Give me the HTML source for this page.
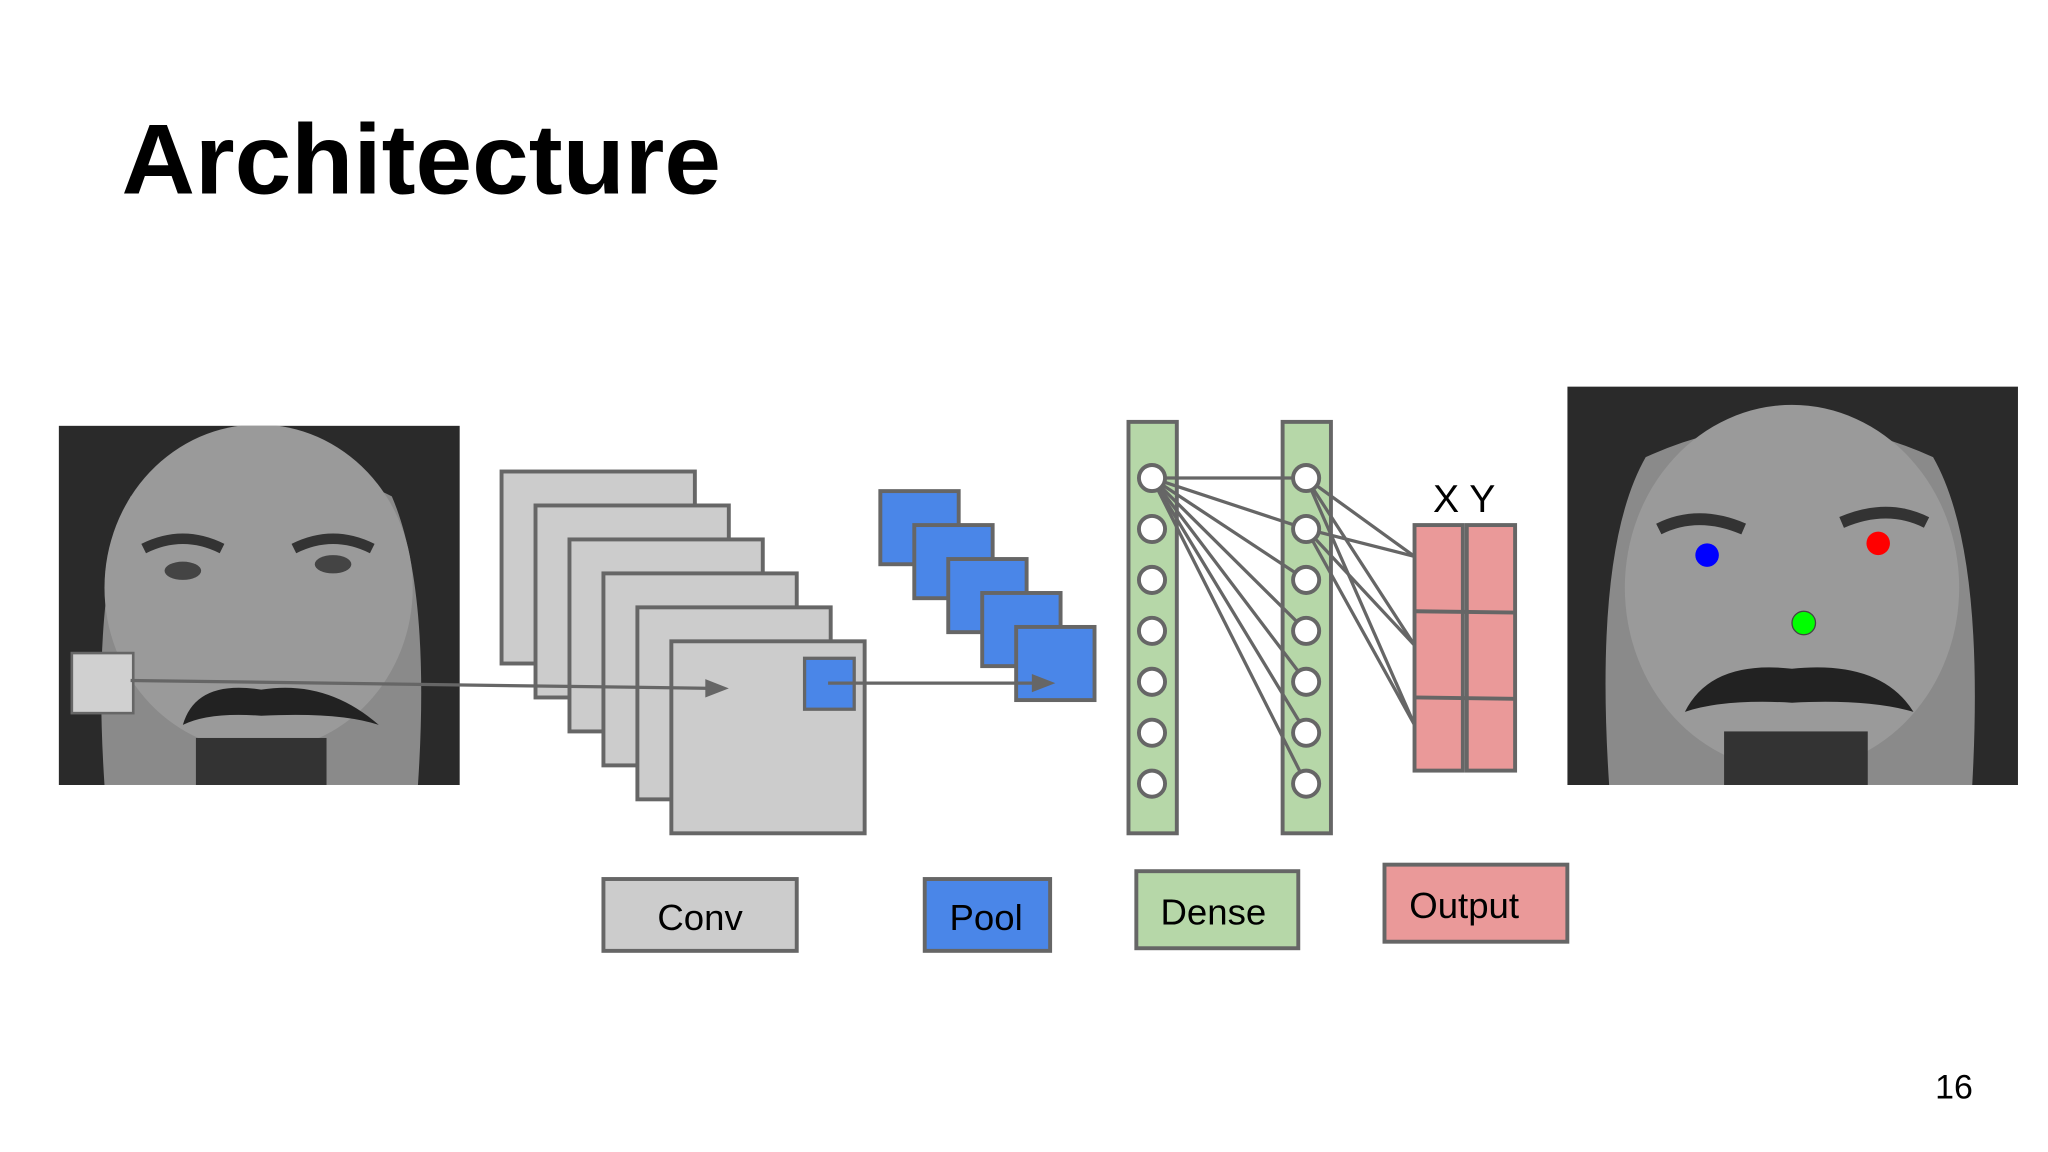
<!DOCTYPE html>
<html><head><style>
html,body{margin:0;padding:0;background:#fff;}
svg{display:block;}
</style></head><body>
<svg width="2048" height="1152" viewBox="0 0 1568 882" xmlns="http://www.w3.org/2000/svg" font-family="Liberation Sans, sans-serif">
<defs>
<clipPath id="cl"><rect x="45" y="326" width="307" height="275"/></clipPath>
<clipPath id="cr"><rect x="1200" y="296" width="345" height="305"/></clipPath>
</defs>
<rect width="1568" height="882" fill="#fff"/>
<text x="93" y="148" font-size="76" font-weight="bold" fill="#000" textLength="459" lengthAdjust="spacingAndGlyphs">Architecture</text>

<!-- left face -->
<g clip-path="url(#cl)">
<rect x="45" y="326" width="307" height="275" fill="#8a8a8a"/>
<path d="M45 326 H352 V601 H320 Q330 450 300 380 Q200 330 100 380 Q70 450 80 601 H45Z" fill="#2a2a2a"/>
<ellipse cx="198" cy="450" rx="118" ry="125" fill="#9a9a9a"/>
<path d="M110 420 Q140 405 170 420" stroke="#333" stroke-width="8" fill="none"/>
<path d="M225 420 Q255 405 285 420" stroke="#333" stroke-width="8" fill="none"/>
<ellipse cx="140" cy="437" rx="14" ry="7" fill="#444"/>
<ellipse cx="255" cy="432" rx="14" ry="7" fill="#444"/>
<path d="M140 555 Q150 520 200 528 Q250 520 290 555 Q260 545 200 548 Q160 545 140 555Z" fill="#222"/>
<rect x="150" y="565" width="100" height="36" fill="#333"/>
</g>
<rect x="55" y="500" width="47" height="46" fill="#d0d0d0" stroke="#666" stroke-width="2"/>

<!-- conv stack -->
<g fill="#cccccc" stroke="#666" stroke-width="3">
<rect x="384" y="361" width="148" height="147"/>
<rect x="410" y="387" width="148" height="147"/>
<rect x="436" y="413" width="148" height="147"/>
<rect x="462" y="439" width="148" height="147"/>
<rect x="488" y="465" width="148" height="147"/>
<rect x="514" y="491" width="148" height="147"/>
</g>
<line x1="100" y1="521" x2="545" y2="527" stroke="#666" stroke-width="2.5"/>
<polygon points="540,520 558,527 540,534" fill="#666"/>
<rect x="616" y="504" width="38" height="39" fill="#4a86e8" stroke="#666" stroke-width="2.5"/>

<!-- pool stack -->
<g fill="#4a86e8" stroke="#666" stroke-width="3">
<rect x="674" y="376" width="60" height="56"/>
<rect x="700" y="402" width="60" height="56"/>
<rect x="726" y="428" width="60" height="56"/>
<rect x="752" y="454" width="60" height="56"/>
<rect x="778" y="480" width="60" height="56"/>
</g>
<line x1="634" y1="523" x2="795" y2="523" stroke="#666" stroke-width="2.5"/>
<polygon points="790,516 808,523 790,530" fill="#666"/>

<!-- dense -->
<rect x="864" y="323" width="37" height="315" fill="#b6d7a8" stroke="#666" stroke-width="3"/>
<rect x="982" y="323" width="37" height="315" fill="#b6d7a8" stroke="#666" stroke-width="3"/>
<g stroke="#666" stroke-width="2.5">
<line x1="882" y1="366" x2="1000" y2="366"/>
<line x1="882" y1="366" x2="1000" y2="405"/>
<line x1="882" y1="366" x2="1000" y2="444"/>
<line x1="882" y1="366" x2="1000" y2="483"/>
<line x1="882" y1="366" x2="1000" y2="522"/>
<line x1="882" y1="366" x2="1000" y2="561"/>
<line x1="882" y1="366" x2="1000" y2="600"/>
<line x1="1000" y1="366" x2="1083" y2="426"/>
<line x1="1000" y1="366" x2="1083" y2="494"/>
<line x1="1000" y1="366" x2="1083" y2="555"/>
<line x1="1000" y1="405" x2="1083" y2="426"/>
<line x1="1000" y1="405" x2="1083" y2="494"/>
<line x1="1000" y1="405" x2="1083" y2="555"/>
</g>
<g fill="#fff" stroke="#666" stroke-width="3">
<circle cx="882" cy="366" r="10"/><circle cx="882" cy="405" r="10"/><circle cx="882" cy="444" r="10"/><circle cx="882" cy="483" r="10"/><circle cx="882" cy="522" r="10"/><circle cx="882" cy="561" r="10"/><circle cx="882" cy="600" r="10"/>
<circle cx="1000" cy="366" r="10"/><circle cx="1000" cy="405" r="10"/><circle cx="1000" cy="444" r="10"/><circle cx="1000" cy="483" r="10"/><circle cx="1000" cy="522" r="10"/><circle cx="1000" cy="561" r="10"/><circle cx="1000" cy="600" r="10"/>
</g>

<!-- output -->
<g fill="#ea9999" stroke="#666" stroke-width="3">
<rect x="1083" y="402" width="37" height="188"/>
<rect x="1123" y="402" width="37" height="188"/>
<line x1="1083" y1="468" x2="1160" y2="469"/>
<line x1="1083" y1="534" x2="1160" y2="535"/>
</g>
<text x="1121" y="392" font-size="30" text-anchor="middle" fill="#000">X Y</text>

<!-- right face -->
<g clip-path="url(#cr)">
<rect x="1200" y="296" width="345" height="305" fill="#8a8a8a"/>
<path d="M1200 296 H1545 V601 H1510 Q1520 420 1480 350 Q1370 300 1260 350 Q1220 420 1232 601 H1200Z" fill="#2a2a2a"/>
<ellipse cx="1372" cy="450" rx="128" ry="140" fill="#9a9a9a"/>
<path d="M1270 405 Q1300 390 1335 405" stroke="#333" stroke-width="9" fill="none"/>
<path d="M1410 400 Q1445 385 1475 400" stroke="#333" stroke-width="9" fill="none"/>
<path d="M1290 545 Q1310 505 1372 512 Q1440 505 1465 545 Q1430 535 1372 538 Q1320 535 1290 545Z" fill="#222"/>
<rect x="1320" y="560" width="110" height="41" fill="#333"/>
</g>
<circle cx="1307" cy="425" r="9" fill="#0000ff"/>
<circle cx="1438" cy="416" r="9" fill="#ff0000"/>
<circle cx="1381" cy="477" r="9" fill="#00ff00" stroke="#444" stroke-width="1"/>

<!-- legend -->
<rect x="462" y="673" width="148" height="55" fill="#cccccc" stroke="#666" stroke-width="3"/>
<text x="536" y="712" font-size="28" text-anchor="middle" fill="#000">Conv</text>
<rect x="708" y="673" width="96" height="55" fill="#4a86e8" stroke="#666" stroke-width="3"/>
<text x="755" y="712" font-size="28" text-anchor="middle" fill="#000">Pool</text>
<rect x="870" y="667" width="124" height="59" fill="#b6d7a8" stroke="#666" stroke-width="3"/>
<text x="929" y="708" font-size="28" text-anchor="middle" fill="#000">Dense</text>
<rect x="1060" y="662" width="140" height="59" fill="#ea9999" stroke="#666" stroke-width="3"/>
<text x="1121" y="703" font-size="28" text-anchor="middle" fill="#000">Output</text>

<text x="1496" y="841" font-size="26" text-anchor="middle" fill="#000">16</text>
</svg>
</body></html>
